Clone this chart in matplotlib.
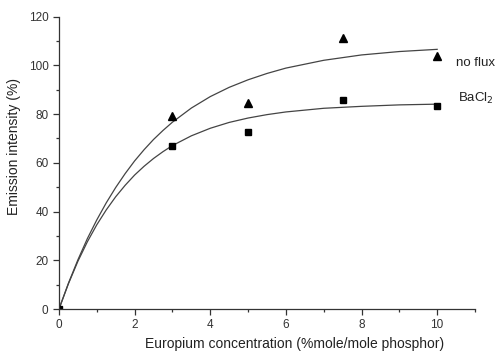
import matplotlib.pyplot as plt

plt.rcParams['font.family'] = ['Liberation Sans', 'DejaVu Sans']

# measured points
conc = [0, 3, 5, 7.5, 10]
no_flux = [0, 79.4, 84.5, 111.4, 104.0]
bacl2 = [0, 67.0, 72.7, 86.0, 83.3]

# fitted curves
curve_x = [0, 0.25, 0.5, 0.75, 1, 1.25, 1.5, 1.75, 2, 2.25, 2.5, 2.75, 3,
           3.5, 4, 4.5, 5, 5.5, 6, 7, 8, 9, 10]
curve_no_flux = [0, 10.6, 20.2, 28.9, 36.6, 43.6, 49.9, 55.6, 60.8, 65.4,
                 69.6, 73.3, 76.7, 82.5, 87.2, 91.0, 94.1, 96.7, 98.9,
                 102.1, 104.3, 105.7, 106.6]
curve_bacl2 = [0, 10.4, 19.6, 27.6, 34.6, 40.7, 46.1, 50.8, 55.0, 58.6,
               61.8, 64.6, 67.1, 71.1, 74.2, 76.6, 78.4, 79.8, 80.9,
               82.4, 83.2, 83.8, 84.1]

fig = plt.figure(figsize=(4.97, 3.53), dpi=100)
ax = fig.add_axes([0.1187, 0.1246, 0.8370, 0.8281])

ax.plot(curve_x, curve_no_flux, color='#444444', lw=0.9)
ax.plot(curve_x, curve_bacl2, color='#444444', lw=0.9)
ax.plot(conc, no_flux, '^', color='black', ms=5.5)
ax.plot(conc, bacl2, 's', color='black', ms=4.5)

ax.text(10.5, 101, 'no flux', fontsize=9.5, color='#222222', va='center')
ax.text(10.55, 86.5, 'BaCl$_2$', fontsize=9.5, color='#222222', va='center')

ax.set_xlim(0, 11)
ax.set_ylim(0, 120)
ax.set_xticks([0, 2, 4, 6, 8, 10])
ax.set_xticks([1, 3, 5, 7, 9, 11], minor=True)
ax.set_yticks(range(0, 121, 20))
ax.set_yticks(range(10, 120, 20), minor=True)
ax.spines['top'].set_visible(False)
ax.spines['right'].set_visible(False)
for s in ['left', 'bottom']:
    ax.spines[s].set_color('#333333')
    ax.spines[s].set_linewidth(0.9)
ax.tick_params(which='major', direction='out', length=4, width=0.9,
               colors='#333333', labelsize=8.5, labelcolor='#333333')
ax.tick_params(which='minor', direction='out', length=2.5, width=0.9,
               colors='#333333')

ax.set_xlabel('Europium concentration (%mole/mole phosphor)', fontsize=10,
              color='#222222')
ax.set_ylabel('Emission intensity (%)', fontsize=10, color='#222222')
ax.xaxis.set_label_coords(0.567, -0.095)
ax.yaxis.set_label_coords(-0.092, 0.555)

fig.savefig('out.png', dpi=100)
